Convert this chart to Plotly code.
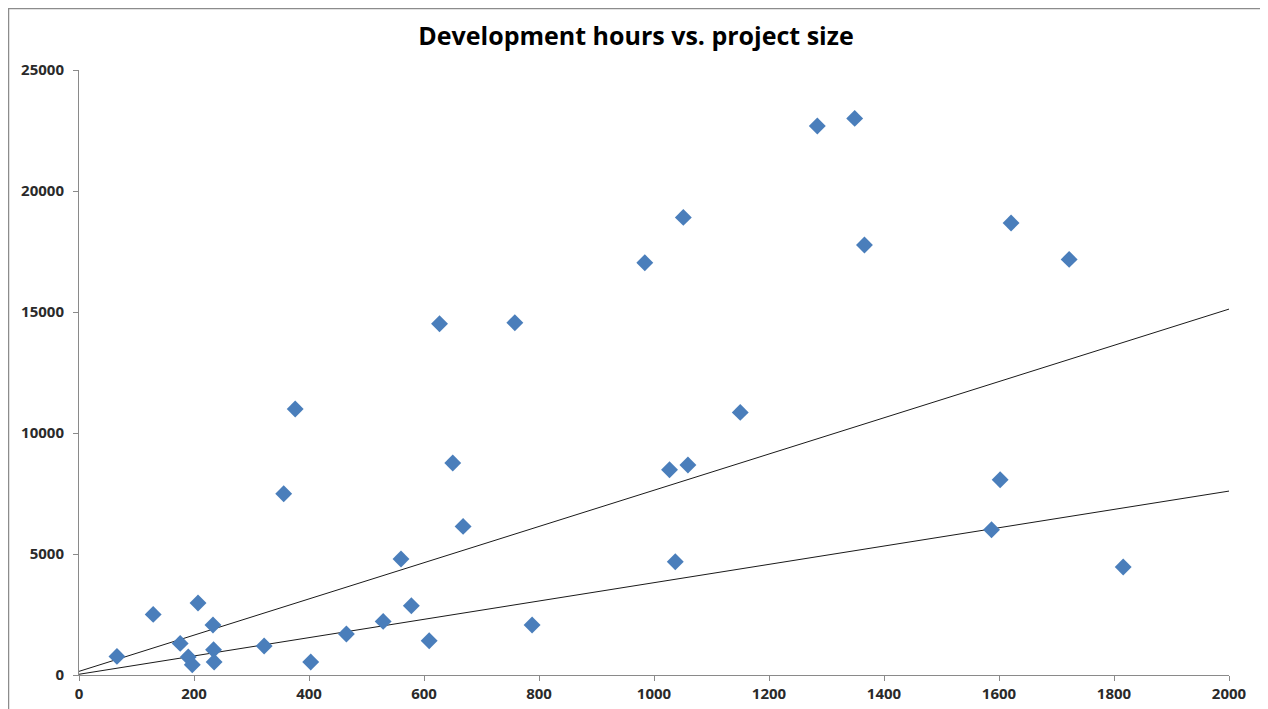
import plotly.graph_objects as go

# Project size (x) vs development hours (y)
project_size = [66, 129, 176, 190, 197, 207, 233, 234, 235, 322, 356, 376, 403, 465,
                529, 560, 578, 609, 627, 650, 668, 758, 788, 984, 1027, 1037, 1051,
                1059, 1150, 1284, 1349, 1366, 1587, 1602, 1621, 1722, 1816]
dev_hours = [769, 2504, 1306, 744, 426, 2975, 2066, 1045, 537, 1198, 7492, 10992, 537, 1694,
             2215, 4793, 2864, 1417, 14517, 8760, 6140, 14558, 2066, 17037, 8483, 4682, 18909,
             8678, 10851, 22686, 23000, 17769, 6004, 8070, 18678, 17174, 4463]

# Reference lines
line_x = [0, 2000]
upper_line_y = [150, 15120]
lower_line_y = [30, 7600]

x_ticks = [0, 200, 400, 600, 800, 1000, 1200, 1400, 1600, 1800, 2000]
y_ticks = [0, 5000, 10000, 15000, 20000, 25000]

fig = go.Figure()
fig.add_trace(go.Scatter(x=line_x, y=upper_line_y, mode="lines",
                         line=dict(color="#1a1a1a", width=1), showlegend=False, hoverinfo="skip"))
fig.add_trace(go.Scatter(x=line_x, y=lower_line_y, mode="lines",
                         line=dict(color="#1a1a1a", width=1), showlegend=False, hoverinfo="skip"))
fig.add_trace(go.Scatter(x=project_size, y=dev_hours, mode="markers",
                         marker=dict(symbol="diamond", size=13, color="#4A7EBB",
                                     line=dict(width=0)),
                         showlegend=False))

axis_font = dict(family="Open Sans, Arial, sans-serif", size=15, color="#2a2a2a")

W, H = 1260, 701
L, T, PW, PH = 71, 62, 1150, 605

fig.update_layout(
    width=W, height=H,
    margin=dict(l=L, r=W - L - PW, t=T, b=H - T - PH, autoexpand=False),
    paper_bgcolor="white", plot_bgcolor="white",
    title=dict(text="<b>Development hours vs. project size</b>",
               x=(636 - 8) / W, xref="container", xanchor="center",
               y=1 - 28 / H, yref="container", yanchor="middle",
               font=dict(family="Open Sans, Arial, sans-serif", size=25, color="#000000")),
    xaxis=dict(range=[0, 2000], tickvals=x_ticks, ticktext=[f"<b>{v}</b>" for v in x_ticks],
               showgrid=False, zeroline=False, showline=True, linecolor="#8a8a8a", linewidth=1,
               ticks="outside", ticklen=5, tickcolor="#8a8a8a", tickfont=axis_font,
               automargin=False),
    yaxis=dict(range=[0, 25000], tickvals=y_ticks, ticktext=[f"<b>{v}</b>" for v in y_ticks],
               showgrid=False, zeroline=False, showline=True, linecolor="#8a8a8a", linewidth=1,
               ticks="outside", ticklen=5, tickcolor="#8a8a8a", tickfont=axis_font,
               ticklabelstandoff=6, automargin=False),
    shapes=[dict(type="rect", xref="paper", yref="paper",
                 x0=(0.5 - L) / PW, x1=(1257 - L) / PW,
                 y0=-0.2, y1=(T + PH - 0.5) / PH,
                 line=dict(color="#8c8c8c", width=1.5), fillcolor="rgba(0,0,0,0)",
                 layer="below")],
)

fig.write_html("out.html")
